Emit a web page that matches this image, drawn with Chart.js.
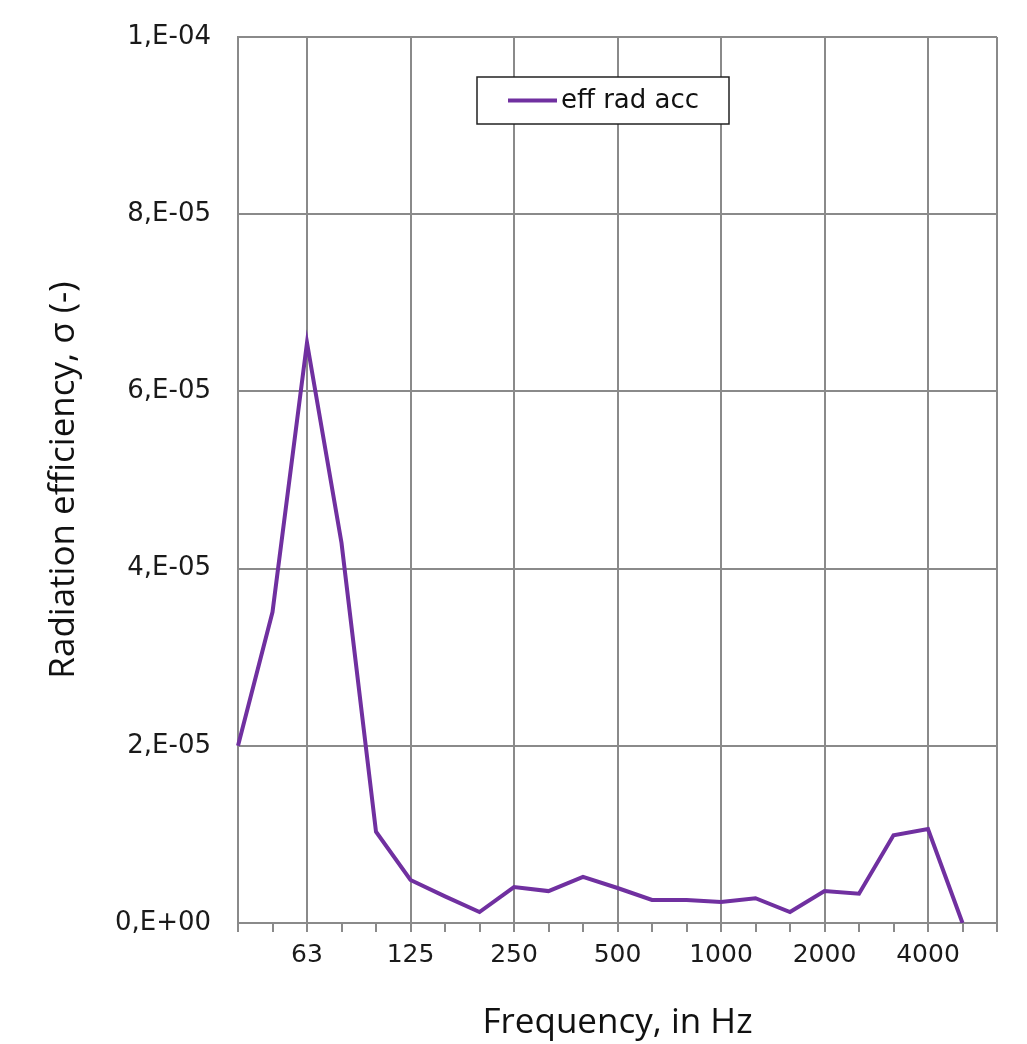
<!DOCTYPE html>
<html>
<head>
<meta charset="utf-8">
<script src="https://cdn.jsdelivr.net/npm/chart.js@4"></script>
<style>
  html, body { margin: 0; padding: 0; background: #fff; }
  #wrap { width: 1027px; height: 1044px; }
</style>
</head>
<body>
<div id="wrap"><canvas id="effChart"></canvas></div>
<script>
    // 1/3 octave bands, last one has no value
    const bands = ['40', '50', '63', '80', '100', '125', '160', '200', '250', '315', '400', '500',
                   '630', '800', '1000', '1250', '1600', '2000', '2500', '3150', '4000', '5000', '6300'];
    const labelledBands = ['63', '125', '250', '500', '1000', '2000', '4000'];
    const effRadAcc = [2.0e-5, 3.51e-5, 6.55e-5, 4.29e-5, 1.03e-5, 4.85e-6, 3.0e-6, 1.24e-6,
                       4.06e-6, 3.6e-6, 5.2e-6, 3.95e-6, 2.6e-6, 2.6e-6, 2.37e-6, 2.8e-6,
                       1.24e-6, 3.6e-6, 3.3e-6, 9.9e-6, 1.06e-5, 0];
    const yTicks = [0, 2e-5, 4e-5, 6e-5, 8e-5, 1e-4];

    const gridGrey = '#8a8a8a', purple = '#7030a0';

    function sciLabel(v) {
        if (Math.abs(v) < 1e-12) return '0,E+00';
        const e = Math.floor(Math.log10(Math.abs(v)) + 1e-9);
        const m = Math.round(v / Math.pow(10, e));
        const ee = String(Math.abs(e)).padStart(2, '0');
        return m + ',E' + (e < 0 ? '-' : '+') + ee;
    }

    function isMajor(i) {
        return i === 0 || i === bands.length - 1 || labelledBands.includes(bands[i]);
    }

    const boxLegend = {
        id: 'boxLegend',
        afterDraw(chart, args, opts) {
            const c = chart.ctx, ds = chart.data.datasets[0];
            c.save();
            c.fillStyle = '#fff';
            c.fillRect(opts.x, opts.y, opts.w, opts.h);
            c.strokeStyle = '#222';
            c.lineWidth = 1.5;
            c.strokeRect(opts.x, opts.y, opts.w, opts.h);
            const my = opts.y + opts.h / 2;
            c.strokeStyle = ds.borderColor;
            c.lineWidth = 4;
            c.beginPath();
            c.moveTo(opts.x + 31, my);
            c.lineTo(opts.x + 80, my);
            c.stroke();
            c.fillStyle = '#111';
            c.font = '26px "DejaVu Sans"';
            c.textBaseline = 'middle';
            c.fillText(ds.label, opts.x + 84, my + 1);
            c.restore();
        }
    };

    new Chart(document.getElementById('effChart'), {
        type: 'line',
        data: {
            labels: bands,
            datasets: [{
                label: 'eff rad acc', data: effRadAcc,
                borderColor: purple, borderWidth: 4, pointRadius: 0, tension: 0, fill: false
            }]
        },
        options: {
            responsive: true, maintainAspectRatio: false, animation: false,
            layout: { padding: { top: 37, right: 30, left: 0, bottom: 0 } },
            scales: {
                x: {
                    type: 'category', offset: false,
                    afterFit: s => { s.height = 121; },
                    border: { color: gridGrey, width: 2 },
                    grid: {
                        color: ctx => isMajor(ctx.index) ? gridGrey : 'rgba(0,0,0,0)',
                        tickColor: gridGrey, lineWidth: 2, tickLength: 9
                    },
                    ticks: {
                        autoSkip: false, maxRotation: 0, padding: 8, color: '#1a1a1a',
                        font: { family: 'DejaVu Sans', size: 25 },
                        callback: (v, i) => labelledBands.includes(bands[i]) ? bands[i] : ''
                    },
                    title: {
                        display: true, text: 'Frequency, in Hz', color: '#111',
                        font: { family: 'Open Sans', size: 35 }, padding: { top: 0, bottom: 0 }
                    }
                },
                y: {
                    min: 0, max: 1e-4,
                    afterFit: s => { s.width = 238; s.paddingTop = 0; s.paddingBottom = 0; },
                    afterBuildTicks: s => { s.ticks = yTicks.map(v => ({ value: v })); },
                    border: { color: gridGrey, width: 2 },
                    grid: { color: gridGrey, lineWidth: 2, drawTicks: false },
                    ticks: {
                        padding: 27, color: '#1a1a1a',
                        font: { family: 'DejaVu Sans', size: 26 },
                        callback: v => sciLabel(v)
                    },
                    title: {
                        display: true, text: 'Radiation efficiency, σ (-)', color: '#111',
                        font: { family: 'Open Sans', size: 35 }, padding: { top: 43, bottom: 0 }
                    }
                }
            },
            plugins: {
                legend: { display: false },
                tooltip: { enabled: false },
                boxLegend: { x: 477, y: 77, w: 252, h: 47 }
            }
        },
        plugins: [boxLegend]
    });
</script>
</body>
</html>
